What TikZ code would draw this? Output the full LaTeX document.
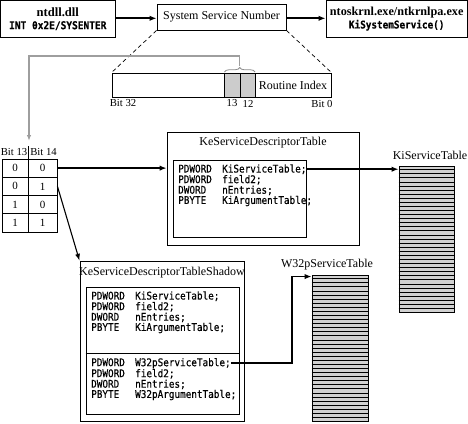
\documentclass[tikz,border=0pt]{standalone}
\usepackage{fontspec}
\setmainfont{Liberation Serif}
\setmonofont[FakeStretch=0.88,FakeBold=0.4]{DejaVu Sans Mono}
\usetikzlibrary{arrows.meta,calc,decorations.pathreplacing}
\newcommand\ctl[2]{\makebox[44bp][l]{#1}#2}
\begin{document}
\begin{tikzpicture}[x=1bp,y=-1bp,
  box/.style={draw,line width=0.9bp,inner sep=0pt},
  arr/.style={line width=1.8bp,-{Latex[length=7bp,width=5.5bp]}},
  thinarr/.style={line width=1.1bp,-{Latex[length=7bp,width=5bp]}},
  grayarr/.style={line width=1.5bp,draw=black!38,-{Latex[length=6bp,width=4.5bp]}},
  code/.style={font=\fontsize{10.6bp}{10.6bp}\ttfamily,anchor=west,inner sep=0pt},
  lbl/.style={font=\fontsize{12bp}{14bp}\selectfont,inner sep=0pt},
  small/.style={font=\fontsize{10.7bp}{12bp}\selectfont,inner sep=0pt},
  cell/.style={draw,line width=0.9bp,inner sep=0pt,minimum width=26bp,minimum height=18.25bp,font=\fontsize{11bp}{12bp}\selectfont},
  stripes/.style={draw,line width=0.9bp,fill=black!18,inner sep=0pt,minimum width=55bp,minimum height=146bp},
]
\useasboundingbox (0,0) rectangle (468,423);

% top row
\node[box,minimum width=114.4bp,minimum height=36.4bp,align=center,font=\fontsize{12.6bp}{14bp}\selectfont] (ntdll) at (57.8,18.8)
  {\textbf{ntdll.dll}\\[-1bp]{\fontsize{10.8bp}{12bp}\ttfamily\bfseries INT 0x2E/SYSENTER}};
\node[box,minimum width=129bp,minimum height=26bp,lbl] (ssn) at (221.5,17) {System Service Number};
\node[box,minimum width=141.4bp,minimum height=36.4bp,align=center,font=\fontsize{12.2bp}{14bp}\selectfont] (nt) at (396.7,18.8)
  {\textbf{ntoskrnl.exe/ntkrnlpa.exe}\\[-1bp]{\fontsize{10.6bp}{12bp}\ttfamily\bfseries KiSystemService()}};
\draw[arr] (ntdll.east |- 0,18.3) -- (ssn.west |- 0,18.3);
\draw[arr] (ssn.east |- 0,18.3) -- (nt.west |- 0,18.3);

% bit field
\node[box,minimum width=219bp,minimum height=24bp] (bf) at (221.5,85) {};
\node[box,fill=black!20,minimum width=16bp,minimum height=24bp] (g13) at (232,85) {};
\node[box,fill=black!20,minimum width=15bp,minimum height=24bp] (g12) at (247.5,85) {};
\node[lbl] (ri) at (293,85) {Routine Index};
\draw[line width=0.7bp,dash pattern=on 4bp off 3bp] (ssn.south west) -- (bf.north west);
\draw[line width=0.7bp,dash pattern=on 4bp off 3bp] (ssn.south east) -- (bf.north east);
\node[small] (b32) at (123,103.5) {Bit 32};
\node[small] (b13) at (232,103.5) {13};
\node[small] (b12) at (248,103.5) {12};
\node[small] (b0) at (322,103.5) {Bit 0};
\draw[black!45,line width=0.8bp,decorate,decoration={brace,amplitude=4.5bp}] (224.5,72) -- (255,72);
\coordinate (btip) at (239.7,66);

% bit table
\node[small] (h13) at (14,152.5) {Bit 13};
\node[small] (h14) at (43.5,152.5) {Bit 14};
\coordinate (hdrtop) at (29,141);
\draw[line width=0.8bp] (28,146) -- (28,159);
\foreach \r/\a/\b in {1/0/0,2/0/1,3/1/0,4/1/1}{
  \node[cell] (c\r1) at (15,{159+18.25*(\r-0.5)}) {\a};
  \node[cell,minimum width=29bp] (c\r2) at (42.5,{159+18.25*(\r-0.5)}) {\b};
}
\draw[grayarr] (btip) -- (btip |- 0,56) -| (hdrtop);

% KeServiceDescriptorTable
\node[box,minimum width=192bp,minimum height=113bp] (kesdt) at (263,188.5) {};
\node[lbl] (kesdtt) at (263,143) {KeServiceDescriptorTable};
\node[box,minimum width=133bp,minimum height=77bp] (kesdti) at (239.5,198.5) {};
\node[code] (k1) at (178,169.2) {\ctl{PDWORD}{KiServiceTable;}};
\node[code] (k2) at (178,179.8) {\ctl{PDWORD}{field2;}};
\node[code] (k3) at (178,190.4) {\ctl{DWORD}{nEntries;}};
\node[code] (k4) at (178,201) {\ctl{PBYTE}{KiArgumentTable;}};

% KiServiceTable
\node[stripes] (kst) at (426.5,239) {};
\foreach \i in {1,...,35}
  \draw[line width=0.7bp] ($(kst.north west)!\i/36!(kst.south west)$) -- ($(kst.north east)!\i/36!(kst.south east)$);
\node[lbl] (kstl) at (430,155) {KiServiceTable};
\draw[arr] (k1.east) -- (k1.east -| kst.west);

% Shadow
\node[box,minimum width=164bp,minimum height=160.5bp] (sh) at (162,341.5) {};
\node[lbl] (sht) at (162,273) {KeServiceDescriptorTableShadow};
\node[box,minimum width=153bp,minimum height=127bp] (shi) at (162.5,350.5) {};
\draw[line width=0.9bp] (shi.west |- 0,353) -- (shi.east |- 0,353);
\node[code] (s1) at (91,296.2) {\ctl{PDWORD}{KiServiceTable;}};
\node[code] (s2) at (91,306.8) {\ctl{PDWORD}{field2;}};
\node[code] (s3) at (91,317.4) {\ctl{DWORD}{nEntries;}};
\node[code] (s4) at (91,328) {\ctl{PBYTE}{KiArgumentTable;}};
\node[code] (w1) at (91,363.2) {\ctl{PDWORD}{W32pServiceTable;}};
\node[code] (w2) at (91,373.8) {\ctl{PDWORD}{field2;}};
\node[code] (w3) at (91,384.4) {\ctl{DWORD}{nEntries;}};
\node[code] (w4) at (91,395) {\ctl{PBYTE}{W32pArgumentTable;}};

% W32pServiceTable
\node[stripes,minimum width=56bp] (w32) at (340,348) {};
\foreach \i in {1,...,35}
  \draw[line width=0.7bp] ($(w32.north west)!\i/36!(w32.south west)$) -- ($(w32.north east)!\i/36!(w32.south east)$);
\node[lbl] (w32l) at (327,265) {W32pServiceTable};
\coordinate (w32in) at ($(w32.north west)+(0,2)$);
\coordinate (bx) at (292,0);
\draw[arr] (w1.east) -- (w1.east -| bx) |- (w32in);

% table arrows
\draw[arr] (c12.east) -- (c12.east -| kesdt.west);
\draw[thinarr] (c22.east) -- (sh.north west);
\end{tikzpicture}
\end{document}
